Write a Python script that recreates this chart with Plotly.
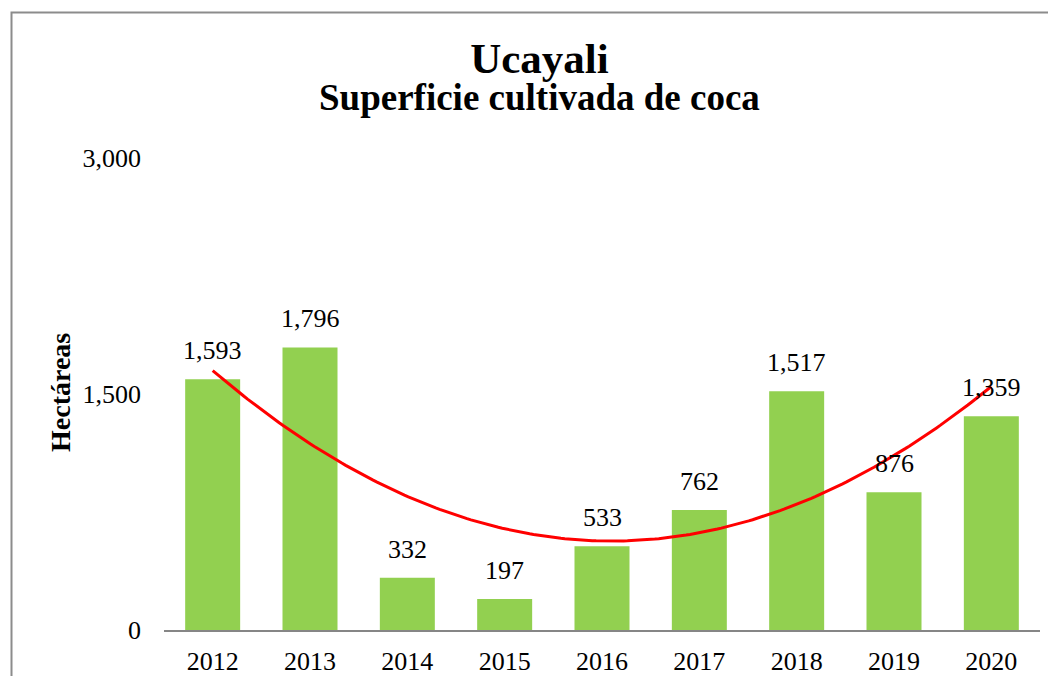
import numpy as np
import plotly.graph_objects as go

years = ["2012", "2013", "2014", "2015", "2016", "2017", "2018", "2019", "2020"]
hectareas = [1593, 1796, 332, 197, 533, 762, 1517, 876, 1359]
y_ticks = [0, 1500, 3000]

title = "Ucayali"
subtitle = "Superficie cultivada de coca"
y_title = "Hectáreas"

FONT = "Liberation Serif, Times New Roman, serif"
OFF = 8  # default body margin of the html page
W, H = 1056 - 2 * OFF, 684 - 2 * OFF
# plot area in screen pixels: x 164..1040, y 158..630
L, T = 164 - OFF, 158 - OFF
R = W - (1040 - OFF)
B = H - (630 - OFF)
pw, ph = W - L - R, H - T - B

def px_x(x):
    return (x - OFF - L) / pw

def px_y(y):
    return (H - B - (y - OFF)) / ph

# polynomial (order 2) trendline from the data, as in the original chart
idx = np.arange(len(hectareas))
coef = np.polyfit(idx, hectareas, 2)
xt = np.linspace(0, len(hectareas) - 1, 200)
yt = np.polyval(coef, xt)

fig = go.Figure()
fig.add_trace(go.Bar(
    x=years, y=hectareas, marker=dict(color="#92D050", line=dict(width=0)),
    width=0.565, showlegend=False, hoverinfo="x+y",
))
fig.add_trace(go.Scatter(
    x=xt, y=yt, xaxis="x2", mode="lines",
    line=dict(color="#FF0000", width=3), showlegend=False, hoverinfo="skip",
))

for i, v in enumerate(hectareas):
    fig.add_annotation(x=i, y=v, xref="x2", yref="y", text=f"{v:,}",
                       showarrow=False, yanchor="bottom", yshift=12,
                       font=dict(family=FONT, size=26, color="black"))

title_text = (f"<span style='font-size:43px'><b>{title}</b></span><br>"
              f"<span style='font-size:37px'><b>{subtitle}</b></span>")
fig.add_annotation(x=px_x(539), y=px_y(76), xref="paper", yref="paper", text=title_text,
                   showarrow=False, xanchor="center", yanchor="middle", align="center",
                   font=dict(family=FONT, size=28.5, color="black"))
fig.add_annotation(x=px_x(60), y=px_y(393), xref="paper", yref="paper", text=f"<b>{y_title}</b>",
                   showarrow=False, textangle=-90, xanchor="center", yanchor="middle",
                   font=dict(family=FONT, size=28, color="black"))

fig.add_shape(type="rect", xref="paper", yref="paper",
              x0=px_x(11.5), x1=px_x(1200), y0=px_y(800), y1=px_y(12.5),
              line=dict(color="#8C8C8C", width=2), fillcolor="rgba(0,0,0,0)", layer="below")

fig.update_layout(
    width=W, height=H, margin=dict(l=L, r=R, t=T, b=B, autoexpand=False),
    paper_bgcolor="white", plot_bgcolor="white",
    font=dict(family=FONT, size=26, color="black"),
    bargap=0.435,
    xaxis=dict(type="category", showgrid=False, showline=True, linecolor="#868686", linewidth=1.5,
               ticks="", ticklabelstandoff=7, tickfont=dict(family=FONT, size=26, color="black"),
               range=[-0.5, len(years) - 0.5], fixedrange=True, automargin=False),
    xaxis2=dict(overlaying="x", range=[-0.5, len(years) - 0.5], visible=False, fixedrange=True),
    yaxis=dict(range=[0, 3000], tickvals=y_ticks, ticktext=[f"{t:,}" for t in y_ticks],
               showgrid=False, zeroline=False, showline=False, ticks="",
               ticklabelstandoff=22, tickfont=dict(family=FONT, size=26, color="black"),
               fixedrange=True, automargin=False),
)

fig.write_html("out.html")
